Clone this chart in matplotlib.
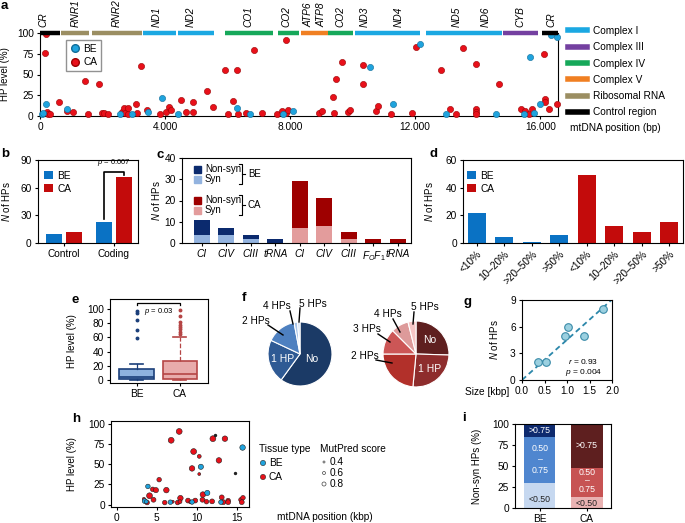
import numpy as np
import matplotlib
matplotlib.use('Agg')
import matplotlib.pyplot as plt
from matplotlib.lines import Line2D
from matplotlib.patches import Rectangle

plt.rcParams['font.family'] = ['Liberation Sans', 'DejaVu Sans']
plt.rcParams['font.size'] = 7
plt.rcParams['mathtext.fontset'] = 'custom'
plt.rcParams['mathtext.rm'] = 'Liberation Sans'
plt.rcParams['mathtext.it'] = 'Liberation Sans:italic'
plt.rcParams['axes.linewidth'] = 0.8
plt.rcParams['xtick.major.size'] = 2.5
plt.rcParams['ytick.major.size'] = 2.5
plt.rcParams['xtick.major.pad'] = 2
plt.rcParams['ytick.major.pad'] = 2

# ---------------- data ----------------
# a: HP level along the mtDNA
ca_pos = [181, 160, 213, 260, 330, 619, 853, 1067, 1440, 1547, 1888, 1973, 2048, 2187, 2613, 2688,
          2720, 2827, 2805, 3061, 3115, 3221, 3413, 3840, 4021, 4128, 4192, 4523, 4661, 4885, 4885,
          5355, 5536, 5920, 6027, 6187, 6315, 6347, 6592, 6848, 7104, 7595, 7733, 7872, 7861, 7947,
          8917, 9013, 9387, 9472, 9675, 9408, 9867, 9920, 10347, 10325, 10747, 10800, 11221, 11893,
          12011, 12832, 13120, 13312, 13515, 13931, 13931, 13931, 13931, 14688, 15392, 15499, 15637,
          15744, 16117, 16160, 16139, 16288, 16544]
ca_hp = [99, 76, 5, 3, 2, 17, 6, 5, 42, 2, 39, 4, 4, 2, 5, 10,
         4, 10, 2, 14, 4, 60, 7, 2, 5, 11, 7, 19, 5, 5, 17,
         30, 11, 56, 2, 18, 56, 3, 4, 80, 4, 2, 6, 91, 4, 7,
         4, 6, 23, 44, 65, 4, 5, 7, 61, 38, 6, 12, 3, 4,
         83, 55, 9, 2, 82, 63, 9, 5, 2, 39, 9, 6, 2,
         8, 75, 21, 17, 9, 15]
be_pos = [53, 107, 192, 853, 2560, 2955, 3467, 3915, 4405, 6304, 6720, 7765, 8107, 10560, 11285,
          12139, 12992, 14592, 15488, 15659, 15797, 16000, 16352, 16533]
be_hp = [2, 4, 14, 8, 2, 2, 5, 22, 3, 10, 2, 3, 6, 59, 14,
         87, 2, 2, 2, 71, 4, 14, 98, 95]

gene_names = ['CR', 'RNR1', 'RNR2', 'ND1', 'ND2', 'CO1', 'CO2', 'ATP6', 'ATP8', 'CO2',
              'ND3', 'ND4', 'ND5', 'ND6', 'CYB', 'CR']
gene_label_pos = [107, 1152, 2453, 3733, 4821, 6667, 7893, 8587, 9013, 9600,
                  10400, 11467, 13333, 14261, 15360, 16373]
region_start = [0, 672, 1653, 3285, 4427, 5920, 7605, 8352, 9227, 10080, 12352, 14795, 16053]
region_end = [640, 1579, 3253, 4341, 5579, 7445, 8288, 9205, 10027, 12160, 14773, 15915, 16569]
region_type = ['Control region', 'Ribosomal RNA', 'Ribosomal RNA', 'Complex I', 'Complex I',
               'Complex IV', 'Complex IV', 'Complex V', 'Complex IV', 'Complex I', 'Complex I',
               'Complex III', 'Control region']
region_types = ['Complex I', 'Complex III', 'Complex IV', 'Complex V', 'Ribosomal RNA', 'Control region']
region_colors = {'Complex I': '#1BA8E2', 'Complex III': '#7440A0', 'Complex IV': '#16A85A',
                 'Complex V': '#F07F22', 'Ribosomal RNA': '#9B8E62', 'Control region': '#000000'}

# b
b_groups = ['Control', 'Coding']
b_be = [10, 23]
b_ca = [12, 72]

# c
c_labels = ['CI', 'CIV', 'CIII', 'tRNA', 'CI', 'CIV', 'CIII', r'$F_OF_1$', 'tRNA']
c_tissue = ['BE', 'BE', 'BE', 'BE', 'CA', 'CA', 'CA', 'CA', 'CA']
c_syn = [4, 4, 2, 0, 7, 8, 2, 0, 0]
c_nonsyn = [7, 3, 2, 2, 22, 13, 3, 2, 2]

# d
d_bins = ['<10%', '10–20%', '>20–50%', '>50%']
d_be = [22, 4, 1, 6]
d_ca = [49, 12, 8, 15]

# e (box statistics)
e_groups = ['BE', 'CA']
e_q1 = [2, 2]
e_med = [4, 8]
e_q3 = [15, 27]
e_whislo = [0, 0]
e_whishi = [23, 61]
e_fliers = [[59, 70, 85, 95, 97], [65, 68, 72, 75, 78, 82, 90, 98]]

# f
f_be_labels = ['No', '1 HP', '2 HPs', '4 HPs', '5 HPs']
f_be_vals = [60, 22, 15, 1.8, 1.2]
f_ca_labels = ['No', '1 HP', '2 HPs', '3 HPs', '4 HPs', '5 HPs']
f_ca_vals = [25.5, 26, 23.5, 12.5, 8.6, 3.9]

# g
g_size = [0.35, 0.53, 0.95, 1.03, 1.38, 1.80]
g_nhp = [2, 2, 5, 6, 5, 8]

# h
h_ca_pos = [7.8, 6.8, 12.0, 13.5, 9.6, 10.3, 12.75, 9.4, 10.3, 5.3, 4.5, 4.9, 6.2, 4.1, 3.4, 4.6,
            3.8, 6.0, 7.0, 7.6, 7.95, 7.9, 8.9, 9.8, 9.2, 10.75, 10.7, 11.2, 11.9, 13.1, 13.3,
            13.9, 13.9, 15.5, 15.75, 15.6]
h_ca_hp = [91, 80, 82, 82, 66, 60, 55, 45, 38, 31, 19, 18, 18, 11, 7, 6,
           2.5, 2.5, 3.6, 2.5, 8, 3.6, 5, 5, 3, 12.5, 6, 3.6, 4, 9, 3,
           5, 3, 6, 8.5, 3]
h_ca_score = [0.9, 0.9, 0.9, 0.85, 0.9, 0.6, 0.85, 0.85, 0.45, 0.7, 0.7, 0.8, 0.85, 0.9, 0.5, 0.75,
              0.7, 0.7, 0.45, 0.7, 0.85, 0.6, 0.75, 0.75, 0.5, 0.85, 0.75, 0.7, 0.75, 0.75, 0.75,
              0.7, 0.75, 0.7, 0.7, 0.75]
h_be_pos = [15.7, 10.5, 3.9, 11.3, 3.5, 6.7, 9.4, 13.0, 3.7]
h_be_hp = [71, 47, 22.6, 14.5, 4.4, 3, 3.2, 3, 3.6]
h_be_score = [0.85, 0.8, 0.7, 0.8, 0.75, 0.7, 0.7, 0.7, 0.6]
h_na_pos = [12.2, 14.7]
h_na_hp = [87, 39]

# i
i_groups = ['BE', 'CA']
i_bins = ['<0.50', '0.50\n–\n0.75', '>0.75']
i_be = [30, 55, 15]
i_ca = [13, 35, 52]

BE_C = '#0A72C4'
CA_C = '#C30B0B'

# ---------------- figure ----------------
W, H = 685, 523
fig = plt.figure(figsize=(6.85, 5.23), dpi=100)


def px_axes(l, t, r, b):
    return fig.add_axes([l / W, 1 - b / H, (r - l) / W, (b - t) / H])


def ylab(ax, text, xpx, l, r):
    ax.set_ylabel(text)
    ax.yaxis.set_label_coords((xpx - l) / (r - l), 0.5)


def size_of(score):
    return (6.5 * np.asarray(score) * 0.72) ** 2


# ---- a ----
axA = px_axes(40, 33, 558, 116)
axA.scatter(ca_pos, ca_hp, s=20, c='#E8101A', edgecolors='#9A0000', linewidths=0.4,
            clip_on=False, zorder=3)
axA.scatter(be_pos, be_hp, s=20, c='#1FA3DD', edgecolors='#0F6B97', linewidths=0.4,
            clip_on=False, zorder=4)
for s0, e0, t in zip(region_start, region_end, region_type):
    axA.plot([s0, e0], [100, 100], color=region_colors[t], lw=3.2, solid_capstyle='butt',
             clip_on=False, zorder=5)
for name, xp in zip(gene_names, gene_label_pos):
    axA.text(xp, 107, name, rotation=90, ha='center', va='bottom', style='italic', fontsize=7.3)
axA.set_xlim(0, 16569)
axA.set_ylim(0, 100)
axA.set_xticks([0, 4000, 8000, 12000, 16000])
axA.set_xticklabels(['0', '4.000', '8.000', '12.000', '16.000'])
axA.set_yticks([0, 25, 50, 75, 100])
axA.spines['top'].set_visible(False)
axA.tick_params(labelsize=7.3)
ylab(axA, 'HP level (%)', 10, 40, 558)
axA.legend(handles=[Line2D([0], [0], marker='o', ls='', mfc='#1FA3DD', mec='#0F6B97', ms=5.5, label='BE'),
                    Line2D([0], [0], marker='o', ls='', mfc='#E8101A', mec='#9A0000', ms=5.5, label='CA')],
           loc='upper left', bbox_to_anchor=(0.05, 0.92), frameon=True, fancybox=False,
           edgecolor='#777777', fontsize=7.3, handletextpad=0.3, borderpad=0.4, labelspacing=0.35,
           handlelength=1.0, borderaxespad=0)
fig.legend(handles=[Line2D([0], [0], color=region_colors[t], lw=4, label=t) for t in region_types],
           loc='upper left', bbox_to_anchor=(568 / W, 1 - 26 / H), frameon=False, fontsize=7.3,
           handlelength=1.9, labelspacing=0.62, handletextpad=0.6, borderaxespad=0, borderpad=0)

# ---- b ----
axB = px_axes(38, 160, 138, 243)
xb = np.arange(len(b_groups))
axB.bar(xb - 0.2, b_be, 0.32, color=BE_C, label='BE')
axB.bar(xb + 0.2, b_ca, 0.32, color=CA_C, label='CA')
axB.set_xlim(-0.52, 1.48)
axB.set_ylim(0, 90)
axB.set_yticks([0, 30, 60, 90])
axB.set_xticks(xb)
axB.set_xticklabels(b_groups)
axB.tick_params(labelsize=7.3)
ylab(axB, r'$\it{N}$ of HPs', 12, 38, 138)
axB.legend(loc='upper left', frameon=False, fontsize=7.3, handlelength=0.9, handleheight=0.9,
           handletextpad=0.4, labelspacing=0.3, bbox_to_anchor=(0.02, 0.92), borderaxespad=0)
axB.plot([0.8, 0.8, 1.2, 1.2], [26, 77, 77, 74], color='k', lw=1.2)
axB.text(1.0, 81, r'$\it{p}$ = 0.007', ha='center', va='bottom', fontsize=5.5)

# ---- c ----
axC = px_axes(182, 158, 411, 243)
xc = np.arange(len(c_labels))
syn_col = {'BE': '#93B3DF', 'CA': '#E39C9C'}
non_col = {'BE': '#0B2A6E', 'CA': '#9E0000'}
axC.bar(xc, c_syn, 0.65, color=[syn_col[t] for t in c_tissue])
axC.bar(xc, c_nonsyn, 0.65, bottom=c_syn, color=[non_col[t] for t in c_tissue])
axC.set_xlim(-0.8, 8.53)
axC.set_ylim(0, 40)
axC.set_yticks([0, 10, 20, 30, 40])
axC.set_xticks(xc)
axC.set_xticklabels(c_labels, style='italic')
axC.tick_params(labelsize=7.3)
ylab(axC, r'$\it{N}$ of HPs', 162, 182, 411)

# ---- d ----
axD = px_axes(463, 160, 683, 243)
xd = np.arange(len(d_bins) * 2)
axD.bar(xd[:4], d_be, 0.65, color=BE_C, label='BE')
axD.bar(xd[4:], d_ca, 0.65, color=CA_C, label='CA')
axD.set_xlim(-0.5, 7.5)
axD.set_ylim(0, 60)
axD.set_yticks([0, 20, 40, 60])
axD.set_xticks(xd)
axD.set_xticklabels(d_bins + d_bins, rotation=45, ha='right', rotation_mode='anchor')
axD.tick_params(labelsize=7.3)
ylab(axD, r'$\it{N}$ of HPs', 435, 463, 683)
axD.legend(loc='upper left', frameon=False, fontsize=7.3, handlelength=0.9, handleheight=0.9,
           handletextpad=0.4, labelspacing=0.3, bbox_to_anchor=(0.0, 0.92), borderaxespad=0)

# ---- e ----
axE = px_axes(110, 299, 208, 383)
stats = []
for i, g in enumerate(e_groups):
    stats.append(dict(label=g, med=e_med[i], q1=e_q1[i], q3=e_q3[i], whislo=e_whislo[i],
                      whishi=e_whishi[i], fliers=e_fliers[i]))
e_face = ['#8EB2DE', '#E8ABAB']
e_edge = ['#1B3F7A', '#B54545']
for i in range(2):
    axE.bxp([stats[i]], positions=[i + 1], widths=0.8, patch_artist=True,
            boxprops=dict(facecolor=e_face[i], edgecolor=e_edge[i], lw=1.2),
            medianprops=dict(color=e_edge[i], lw=1.2),
            whiskerprops=dict(color=e_edge[i], lw=0.9, ls='-' if i == 0 else '--'),
            capprops=dict(color=e_edge[i], lw=1.2),
            flierprops=dict(marker='o', ms=1.8, mfc=e_edge[i], mec=e_edge[i]), capwidths=0.3)
axE.set_xlim(0.38, 2.65)
axE.set_ylim(-4, 114)
axE.set_yticks([0, 20, 40, 60, 80, 100])
axE.set_xticks([1, 2])
axE.set_xticklabels(e_groups)
axE.tick_params(labelsize=7.3)
ylab(axE, 'HP level (%)', 77, 110, 208)
axE.plot([1, 1, 2, 2], [106, 108, 108, 106], color='k', lw=0.9)
axE.text(1.5, 104, r'$\it{p}$ = 0.03', ha='center', va='top', fontsize=5.5)

# ---- f ----
axF1 = px_axes(264, 318, 336, 390)
axF1.pie(f_be_vals, colors=['#1B3A66', '#2F5A94', '#4E80C0', '#A8C4E8', '#C8DAF2'],
         startangle=90, counterclock=False, radius=1.0,
         wedgeprops=dict(edgecolor='white', linewidth=0.8))
axF1.set_xlim(-1.125, 1.125)
axF1.set_ylim(-1.125, 1.125)
axF2 = px_axes(380, 318, 452, 390)
axF2.pie(f_ca_vals, colors=['#5E1F1F', '#8E2D2D', '#B2302A', '#CC5656', '#DD9A9A', '#F6C6C6'],
         startangle=90, counterclock=False, radius=1.03,
         wedgeprops=dict(edgecolor='white', linewidth=0.8))
axF2.set_xlim(-1.125, 1.125)
axF2.set_ylim(-1.125, 1.125)

# ---- g ----
axG = px_axes(522, 300, 612, 380)
gx = np.array(g_size)
gy = np.array(g_nhp)
slope = (gx * gy).sum() / (gx * gx).sum()
axG.plot([0, 2], [0, 2 * slope], ls='--', color='#2B87AA', lw=1.3, dashes=(3, 2))
axG.scatter(gx, gy, s=30, c='#9BD0E0', edgecolors='#3A8BA8', linewidths=0.8, zorder=3)
axG.set_xlim(0, 2)
axG.set_ylim(0, 9)
axG.set_xticks([0, 0.5, 1.0, 1.5, 2.0])
axG.set_xticklabels(['0.0', '0.5', '1.0', '1.5', '2.0'])
axG.set_yticks([0, 3, 6, 9])
axG.tick_params(labelsize=7.3)
ylab(axG, r'$\it{N}$ of HPs', 500, 522, 612)
axG.text(1.36, 2.1, r'$\it{r}$ = 0.93', ha='center', va='center', fontsize=6)
axG.text(1.36, 0.8, r'$\it{p}$ = 0.004', ha='center', va='center', fontsize=6)

# ---- h ----
axH = px_axes(111, 421, 249, 507)
axH.scatter(h_ca_pos, h_ca_hp, s=size_of(h_ca_score), c='#E8101A', edgecolors='#222222',
            linewidths=0.4, zorder=3)
axH.scatter(h_be_pos, h_be_hp, s=size_of(h_be_score), c='#1FA3DD', edgecolors='#222222',
            linewidths=0.4, zorder=4)
axH.scatter(h_na_pos, h_na_hp, s=2, c='#222222', zorder=4)
axH.set_xlim(-0.7, 16.5)
axH.set_ylim(-3, 104)
axH.set_xticks([0, 5, 10, 15])
axH.set_yticks([0, 25, 50, 75, 100])
axH.tick_params(labelsize=7.3)
ylab(axH, 'HP level (%)', 77, 111, 249)

# ---- i ----
axI = px_axes(515, 424, 611, 508)
i_vals = np.array([i_be, i_ca])
i_colors = [['#C6D8F0', '#4F86CF', '#0E2A6E'], ['#E9B2B2', '#C75353', '#5E1F1F']]
i_text = [['#222222', 'white', 'white'], ['#222222', 'white', 'white']]
i_shift = [[-5, 0, 0], [-1, 2, 0]]
i_lsp = [1.25, 0.95]
for gi in range(2):
    bottom = 0
    for k in range(3):
        axI.bar(gi + 1, i_vals[gi][k], 0.66, bottom=bottom, color=i_colors[gi][k])
        axI.text(gi + 1, bottom + i_vals[gi][k] / 2 + i_shift[gi][k], i_bins[k],
                 ha='center', va='center', fontsize=6.3, color=i_text[gi][k], linespacing=i_lsp[gi])
        bottom += i_vals[gi][k]
axI.set_xlim(0.47, 2.51)
axI.set_ylim(0, 100)
axI.set_yticks([0, 25, 50, 75, 100])
axI.set_xticks([1, 2])
axI.set_xticklabels(i_groups)
axI.tick_params(labelsize=7.3)
ylab(axI, 'Non-syn HPs (%)', 482, 515, 611)

# ---- overlay: panel letters, free text, legends ----
ov = fig.add_axes([0, 0, 1, 1], zorder=10)
ov.set_xlim(0, W)
ov.set_ylim(H, 0)
ov.axis('off')
ov.patch.set_alpha(0)
for lab, xp, yp in [('a', 1, 6), ('b', 1, 154), ('c', 157, 155), ('d', 430, 154), ('e', 72, 300),
                    ('f', 242, 298), ('g', 464, 302), ('h', 72, 419), ('i', 462, 418)]:
    ov.text(xp, yp, lab, fontsize=9.5, fontweight='bold', ha='left', va='center')
ov.text(570, 128, 'mtDNA position (bp)', fontsize=7.3, va='center')
ov.text(465, 392, 'Size [kbp]', fontsize=7.3, va='center')
ov.text(277, 517, 'mtDNA position (kbp)', fontsize=7.3, va='center')

# c legend with brackets
for tis, y0 in [('BE', 169), ('CA', 200)]:
    ov.add_patch(Rectangle((194, y0 - 3.5), 7, 7, color=non_col[tis]))
    ov.add_patch(Rectangle((194, y0 + 10 - 3.5), 7, 7, color=syn_col[tis]))
    ov.text(205, y0, 'Non-syn', fontsize=7, va='center')
    ov.text(205, y0 + 10, 'Syn', fontsize=7, va='center')
    ov.plot([239, 242, 242, 239], [y0 - 5, y0 - 5, y0 + 15, y0 + 15], color='k', lw=0.8)
    ov.plot([242, 245], [y0 + 5, y0 + 5], color='k', lw=0.8)
    ov.text(248, y0 + 5, tis, fontsize=7, va='center')

# pie labels
for txt, tx, ty, l0, l1 in [('2 HPs', 256, 321, (268, 325), (283, 335)),
                            ('4 HPs', 277, 306, (290, 311), (293, 324)),
                            ('5 HPs', 313, 304, (300, 308), (299, 322)),
                            ('5 HPs', 425, 307, (414, 312), (413, 324)),
                            ('4 HPs', 388, 314, (393, 319), (400, 332)),
                            ('3 HPs', 367, 329, (378, 334), (390, 342)),
                            ('2 HPs', 365, 356, (376, 360), (392, 363))]:
    ov.text(tx, ty, txt, fontsize=7.3, ha='center', va='center')
    ov.plot([l0[0], l1[0]], [l0[1], l1[1]], color='k', lw=1.0)
for txt, tx, ty in [('1 HP', 283, 359), ('No', 312, 359), ('No', 430, 340), ('1 HP', 430, 369)]:
    ov.text(tx, ty, txt, fontsize=7.5, ha='center', va='center', color='white')

# h legend
ov.text(259, 449, 'Tissue type', fontsize=7.3, va='center')
ov.scatter([263, 263], [463, 477], s=size_of([0.8, 0.8]), c=['#1FA3DD', '#E8101A'],
           edgecolors='#222222', linewidths=0.4)
ov.text(269, 463, 'BE', fontsize=7.3, va='center')
ov.text(269, 477, 'CA', fontsize=7.3, va='center')
ov.text(320, 449, 'MutPred score', fontsize=7.3, va='center')
h_leg_scores = [0.4, 0.6, 0.8]
ov.scatter([324, 324, 324], [462, 473, 484], s=size_of(h_leg_scores) * 0.6, c='white',
           edgecolors='#444444', linewidths=0.5)
for sc, yp in zip(h_leg_scores, [462, 473, 484]):
    ov.text(330, yp, f'{sc}', fontsize=7.3, va='center')

fig.savefig('out.png', dpi=100)
